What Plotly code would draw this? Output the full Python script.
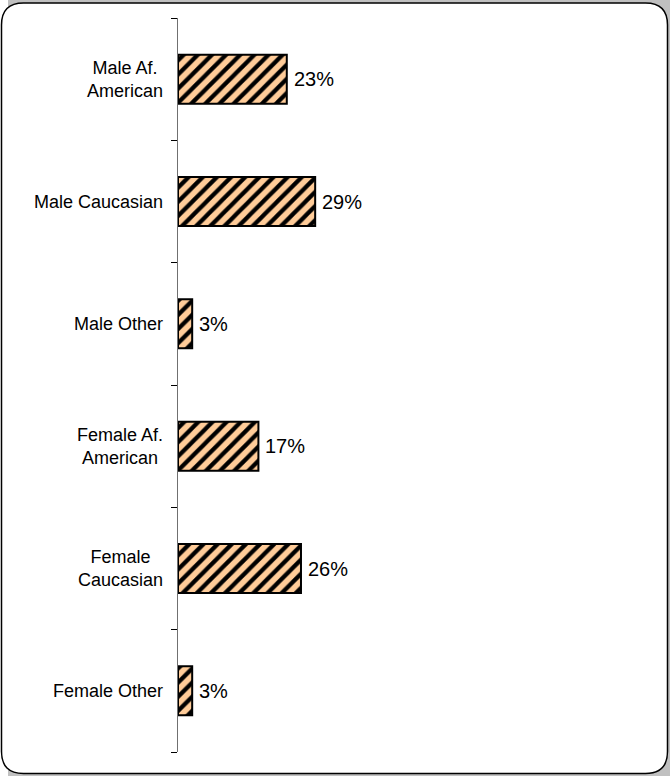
import plotly.graph_objects as go

# Share of each group, in percent
categories = [
    "Male Af. American",
    "Male Caucasian",
    "Male Other",
    "Female Af. American",
    "Female Caucasian",
    "Female Other",
]
category_labels = [
    "Male Af.<br>American",
    "Male Caucasian",
    "Male Other",
    "Female Af.<br>American",
    "Female<br>Caucasian",
    "Female Other",
]
shares = [23, 29, 3, 17, 26, 3]

FONT = "Liberation Sans, Arial, sans-serif"
WIDTH, HEIGHT = 670, 776
ML, MR, MT, MB = 178, 19, 18, 24
PW, PH = WIDTH - ML - MR, HEIGHT - MT - MB


def px_to_paper(x, y):
    return (x - ML) / PW, 1 - (y - MT) / PH


def rounded_rect(x0, y0, x1, y1, r):
    def p(x, y):
        u, v = px_to_paper(x, y)
        return f"{u:.5f},{v:.5f}"
    return (
        f"M {p(x0 + r, y0)} L {p(x1 - r, y0)} Q {p(x1, y0)} {p(x1, y0 + r)} "
        f"L {p(x1, y1 - r)} Q {p(x1, y1)} {p(x1 - r, y1)} "
        f"L {p(x0 + r, y1)} Q {p(x0, y1)} {p(x0, y1 - r)} "
        f"L {p(x0, y0 + r)} Q {p(x0, y0)} {p(x0 + r, y0)} Z"
    )


fig = go.Figure(
    go.Bar(
        x=shares,
        y=categories,
        orientation="h",
        marker=dict(
            color="#FFCC99",
            line=dict(color="black", width=2),
            pattern=dict(shape="/", fgcolor="black", bgcolor="#FFCC99",
                         fgopacity=1, size=10, solidity=0.42),
        ),
        hoverinfo="skip",
    )
)

# Value labels to the right of each bar
for cat, val in zip(categories, shares):
    fig.add_annotation(
        x=val, y=cat, xref="x", yref="y",
        text=f"{val}%", showarrow=False,
        xanchor="left", xshift=5,
        font=dict(family=FONT, size=20, color="black"),
    )

# Category labels, centred line by line
for cat, lab in zip(categories, category_labels):
    fig.add_annotation(
        x=0, y=cat, xref="paper", yref="y",
        text=lab, showarrow=False,
        xanchor="right", xshift=-13, align="center",
        font=dict(family=FONT, size=18, color="black"),
    )

# Frame: soft grey backdrop and a white rounded panel
fig.add_shape(type="path", xref="paper", yref="paper", layer="below",
              path=rounded_rect(8, -20, 700, 800, 22),
              fillcolor="#c0c0c0", line=dict(width=0))
fig.add_shape(type="path", xref="paper", yref="paper", layer="below",
              path=rounded_rect(1.5, 3, 667.5, 773.5, 22),
              fillcolor="white", line=dict(color="black", width=1.5))

n = len(categories)
fig.update_layout(
    width=WIDTH, height=HEIGHT,
    margin=dict(l=ML, r=MR, t=MT, b=MB),
    paper_bgcolor="white",
    plot_bgcolor="rgba(0,0,0,0)",
    bargap=0.6,
    showlegend=False,
    xaxis=dict(range=[0, 100], visible=False, fixedrange=True),
    yaxis=dict(
        range=[n - 0.5, -0.5],
        showticklabels=False, showline=False, ticks="",
        showgrid=False, zeroline=False, fixedrange=True,
    ),
    # Numeric companion axis carrying the spine and the boundary ticks
    yaxis2=dict(
        overlaying="y", side="left", anchor="x",
        range=[n - 0.5, -0.5],
        tickmode="array", tickvals=[i - 0.5 for i in range(n + 1)],
        showticklabels=False,
        showline=True, linecolor="#707070", linewidth=1,
        ticks="outside", ticklen=6, tickcolor="black", tickwidth=1,
        showgrid=False, zeroline=False, fixedrange=True,
    ),
)
# An empty trace keeps the companion axis drawn
fig.add_trace(go.Scatter(x=[None], y=[None], yaxis="y2", hoverinfo="skip"))

fig.write_html("out.html")
